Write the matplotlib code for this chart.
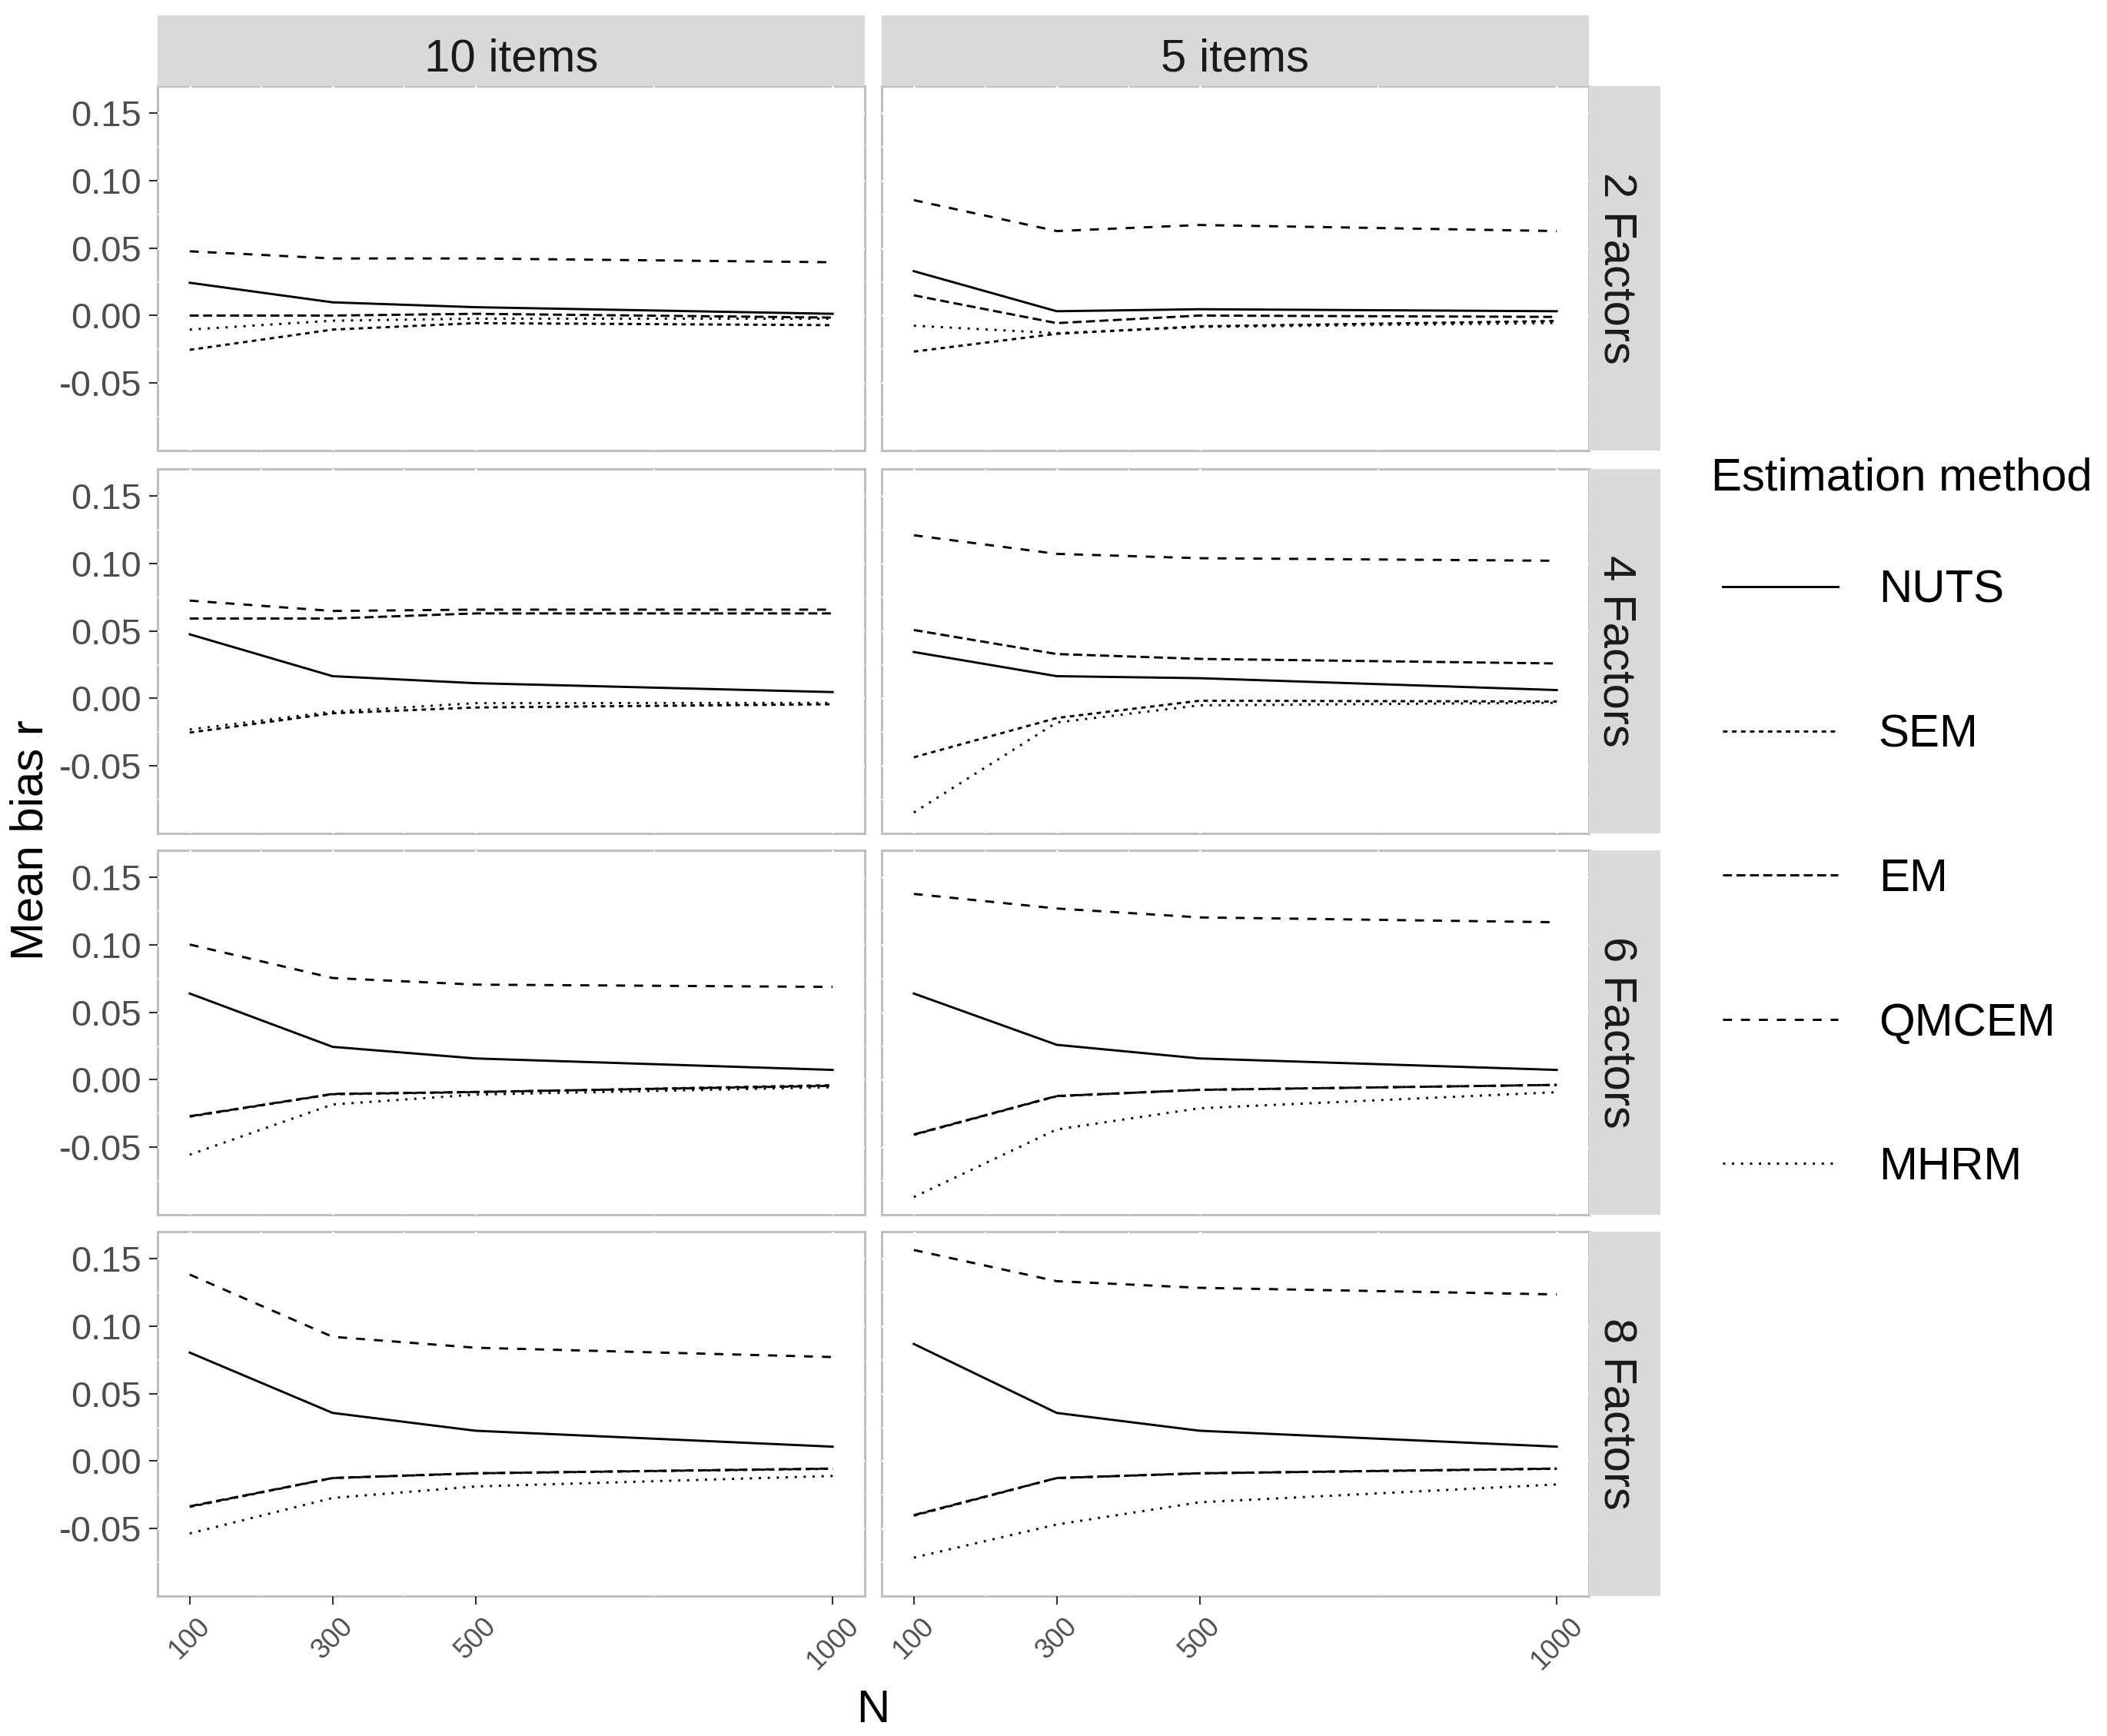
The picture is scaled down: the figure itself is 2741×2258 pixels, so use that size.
import numpy as np
import matplotlib
matplotlib.use('Agg')
import matplotlib.pyplot as plt
from matplotlib.ticker import FixedLocator

plt.rcParams['font.family'] = ['Liberation Sans', 'DejaVu Sans']
plt.rcParams['axes.unicode_minus'] = False

# sample sizes on the x axis
n_values = [100, 300, 500, 1000]
item_labels = ['10 items', '5 items']
factor_labels = ['2 Factors', '4 Factors', '6 Factors', '8 Factors']
methods = ['NUTS', 'SEM', 'EM', 'QMCEM', 'MHRM']

# mean bias of r, one row per panel:
# 2F/10, 2F/5, 4F/10, 4F/5, 6F/10, 6F/5, 8F/10, 8F/5
nuts = [
    [0.0243, 0.0098, 0.0062, 0.0013],
    [0.0329, 0.0032, 0.0047, 0.0032],
    [0.0475, 0.0165, 0.0113, 0.0047],
    [0.0344, 0.0165, 0.0150, 0.0062],
    [0.0639, 0.0244, 0.0158, 0.0073],
    [0.0639, 0.0259, 0.0158, 0.0073],
    [0.0804, 0.0357, 0.0225, 0.0107],
    [0.0868, 0.0357, 0.0225, 0.0107],
]
sem = [
    [-0.0254, -0.0104, -0.0056, -0.0071],
    [-0.0267, -0.0135, -0.0080, -0.0040],
    [-0.0253, -0.0110, -0.0067, -0.0043],
    [-0.0436, -0.0145, -0.0017, -0.0023],
    [-0.0273, -0.0107, -0.0092, -0.0040],
    [-0.0408, -0.0122, -0.0074, -0.0038],
    [-0.0339, -0.0126, -0.0091, -0.0057],
    [-0.0404, -0.0126, -0.0091, -0.0057],
]
em = [
    [0.0000, 0.0000, 0.0013, -0.0015],
    [0.0150, -0.0056, 0.0000, -0.0010],
    [0.0592, 0.0592, 0.0630, 0.0630],
    [0.0507, 0.0329, 0.0293, 0.0259],
    [-0.0270, -0.0105, -0.0090, -0.0045],
    [-0.0405, -0.0120, -0.0075, -0.0038],
    [-0.0335, -0.0125, -0.0090, -0.0055],
    [-0.0400, -0.0125, -0.0090, -0.0055],
]
qmcem = [
    [0.0476, 0.0423, 0.0423, 0.0395],
    [0.0855, 0.0626, 0.0671, 0.0626],
    [0.0725, 0.0648, 0.0658, 0.0658],
    [0.1209, 0.1071, 0.1039, 0.1020],
    [0.1002, 0.0754, 0.0705, 0.0688],
    [0.1377, 0.1269, 0.1203, 0.1167],
    [0.1382, 0.0921, 0.0840, 0.0771],
    [0.1564, 0.1333, 0.1284, 0.1235],
]
mhrm = [
    [-0.0104, -0.0038, -0.0023, -0.0023],
    [-0.0075, -0.0130, -0.0085, -0.0055],
    [-0.0230, -0.0098, -0.0035, -0.0033],
    [-0.0845, -0.0178, -0.0051, -0.0032],
    [-0.0555, -0.0183, -0.0110, -0.0055],
    [-0.0869, -0.0368, -0.0211, -0.0092],
    [-0.0536, -0.0273, -0.0188, -0.0110],
    [-0.0715, -0.0470, -0.0305, -0.0173],
]

ytick_values = [-0.05, 0.00, 0.05, 0.10, 0.15]
ytick_labels = ['-0.05', '0.00', '0.05', '0.10', '0.15']

series = [nuts, sem, em, qmcem, mhrm]
linestyles = ['-', (0, (2, 2)), (0, (4, 2)), (0, (4, 4)), (0, (1, 3))]

W, H = 2741, 2258
fig = plt.figure(figsize=(W / 300, H / 300), dpi=300)


def rect(x0, y0, w, h):
    return [x0 / W, 1 - (y0 + h) / H, w / W, h / H]


col_left = [205, 1147]
col_w = 920
row_top = [112, 610, 1106, 1602]
row_h = 474
strip_x = 2067

border = '#BEBEBE'
strip_bg = '#D9D9D9'

for r in range(4):
    for c in range(2):
        ax = fig.add_axes(rect(col_left[c], row_top[r], col_w, row_h))
        k = r * 2 + c
        for m, data, ls in zip(methods, series, linestyles):
            ax.plot(n_values, data[k], color='black', lw=0.7, ls=ls, label=m)
        ax.set_xlim(55, 1045)
        ax.set_ylim(-0.100, 0.170)
        ax.xaxis.set_major_locator(FixedLocator(n_values))
        ax.xaxis.set_minor_locator(FixedLocator([200, 400, 750]))
        ax.yaxis.set_major_locator(FixedLocator(ytick_values))
        ax.yaxis.set_minor_locator(FixedLocator([-0.075, -0.025, 0.025, 0.075, 0.125]))
        # white grid drawn over the light border, like the ggplot output
        ax.set_axisbelow(True)
        ax.grid(True, which='major', color='white', lw=0.7)
        ax.grid(True, which='minor', color='white', lw=0.4)
        for sp in ax.spines.values():
            sp.set_color(border)
            sp.set_linewidth(0.7)
            sp.set_zorder(0.3)
        ax.tick_params(which='minor', length=0)
        ax.tick_params(which='major', length=2.75, width=0.5, color='#333333')
        if c == 0:
            ax.set_yticklabels(ytick_labels)
            ax.tick_params(axis='y', labelsize=11.3, labelcolor='#4D4D4D', pad=2.2)
        else:
            ax.tick_params(axis='y', length=0, labelleft=False)
        if r == 3:
            ax.set_xticklabels([str(n) for n in n_values])
            ax.tick_params(axis='x', labelsize=8.6, labelcolor='#4D4D4D', pad=2.5)
            plt.setp(ax.get_xticklabels(), rotation=45, ha='center')
        else:
            ax.tick_params(axis='x', length=0, labelbottom=False)
        if k == 0:
            handles, labels = ax.get_legend_handles_labels()

# facet strips
for c in range(2):
    s = fig.add_axes(rect(col_left[c], 20, col_w, 92))
    s.set_facecolor(strip_bg)
    s.set_xticks([])
    s.set_yticks([])
    for sp in s.spines.values():
        sp.set_visible(False)
    s.text(0.5, 0.38, item_labels[c], transform=s.transAxes, ha='center', va='center',
           fontsize=14.4, color='#1A1A1A')

for r in range(4):
    s = fig.add_axes(rect(strip_x, row_top[r], 93, row_h))
    s.set_facecolor(strip_bg)
    s.set_xticks([])
    s.set_yticks([])
    for sp in s.spines.values():
        sp.set_visible(False)
    s.text(0.38, 0.5, factor_labels[r], transform=s.transAxes, ha='center', va='center',
           rotation=270, fontsize=14.4, color='#1A1A1A')

# axis titles
fig.text(1136 / W, 1 - 2240 / H, 'N', ha='center', va='baseline', fontsize=14.4)
fig.text(40 / W, 1 - 1093 / H, 'Mean bias r', ha='center', va='center', rotation=90, fontsize=14.4)

# legend
fig.text(2226 / W, 1 - 637 / H, 'Estimation method', ha='left', va='baseline', fontsize=14.4)
fig.legend(handles, labels, loc='upper left', bbox_to_anchor=(2241 / W, 1 - 741 / H),
           frameon=False, fontsize=14.4, handlelength=2.5, handletextpad=0.88,
           labelspacing=2.21, borderpad=0, borderaxespad=0)

fig.savefig('out.png', dpi=300, facecolor='white')
